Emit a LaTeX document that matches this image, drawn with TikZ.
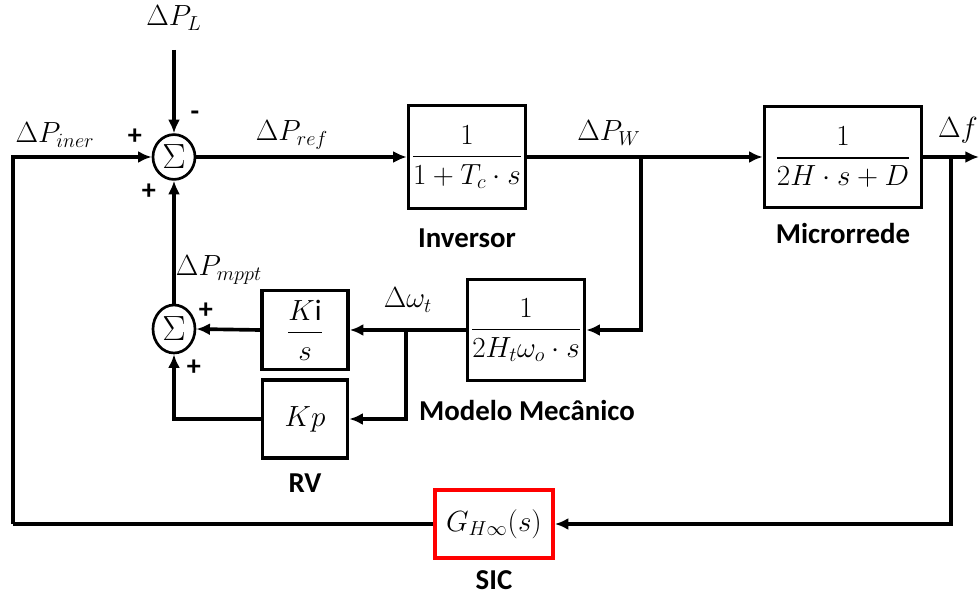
\documentclass[tikz,border=0pt]{standalone}
\usepackage{amsmath}
\usepackage{fontspec}
\setmainfont{Carlito}
\usepackage{tikz}
\usetikzlibrary{positioning, arrows.meta, shapes.geometric}

\begin{document}
\begin{tikzpicture}[
    x=0.025cm, y=-0.025cm,
    font=\fontsize{21}{24}\selectfont,
    blk/.style={
      draw=black, line width=2.6pt, fill=white, inner sep=2pt, align=center
    },
    summ/.style={
      draw=black, line width=1.9pt, ellipse, inner sep=0pt,
      minimum width=1.05cm, minimum height=1.12cm,
      font=\fontsize{24}{26}\selectfont
    },
    lbl/.style={font=\fontsize{20.5}{23}\selectfont\bfseries},
    sgn/.style={font=\fontsize{20}{22}\selectfont\bfseries, inner sep=0pt},
    arr/.style={-{Latex[length=3.4mm, width=3mm]}, line width=2.6pt},
    ln/.style={line width=2.6pt},
  ]
    \useasboundingbox (0,0) rectangle (979,596);
    % somadores
    \node[summ] (s1) at (174,157) {$\Sigma$};
    \node[summ, minimum height=1.2cm] (s2) at (174,329) {$\Sigma$};
    % blocos
    \node[blk, minimum width=2.875cm, minimum height=2.575cm] (inv) at (467,157)
      {$\dfrac{1}{1+T_c\cdot s}$};
    \node[blk, minimum width=3.925cm, minimum height=2.525cm] (mic) at (843,157)
      {$\dfrac{1}{2H\cdot s+D}$};
    \node[blk, minimum width=2.925cm, minimum height=2.525cm] (mec) at (526,330)
      {$\dfrac{1}{2H_t\omega_o\cdot s}$};
    \node[blk, minimum width=2.15cm, minimum height=1.975cm] (ki) at (305,330)
      {$\dfrac{K\mathrm{i}}{s}$};
    \node[blk, minimum width=2.125cm, minimum height=1.95cm] (kp) at (305,419)
      {$Kp$};
    \node[blk, draw=red, minimum width=2.95cm, minimum height=1.7cm] (sic) at (494,524)
      {$G_{H\infty}(s)$};
    % nomes dos blocos
    \node[lbl] (tinv) at (467,238) {Inversor};
    \node[lbl] (tmic) at (843,233) {Microrrede};
    \node[lbl] (tmec) at (527,410) {Modelo Mecânico};
    \node[lbl] (trv) at (305,483) {RV};
    \node[lbl] (tsic) at (494,580) {SIC};
    % pontos auxiliares
    \coordinate (pl) at (174,50);
    \coordinate (out) at (979,157);
    \coordinate (bw) at (641,157);
    \coordinate (bf) at (951,157);
    \coordinate (bo) at (406,330);
    \coordinate (fb) at (13,524);
    % sinais
    \node (lpl) at (174,18) {$\Delta P_L$};
    \node (liner) at (55,135) {$\Delta P_{iner}$};
    \node (lref) at (292,135) {$\Delta P_{ref}$};
    \node (lw) at (609,133) {$\Delta P_W$};
    \node (lf) at (958,130) {$\Delta f$};
    \node (lom) at (408,300) {$\Delta\omega_t$};
    \node (lmp) at (219,270) {$\Delta P_{mppt}$};
    \node[sgn] (m1) at (195,116) {-};
    \node[sgn] (p1) at (135,137) {+};
    \node[sgn] (p2) at (149,192) {+};
    \node[sgn] (p3) at (206,311) {+};
    \node[sgn] (p4) at (194,368) {+};
    % ligacoes
    \draw[arr] (pl) -- (s1.north);
    \draw[arr] (s1.east) -- (inv.west);
    \draw[arr] (inv.east) -- (mic.west);
    \draw[arr] (mic.east) -- (out);
    \draw[arr] (bw) |- (mec.east);
    \draw[arr] (mec.west) -- (ki.east);
    \draw[arr] (bo) |- (kp.east);
    \draw[arr] (ki.west) -- (s2.east);
    \draw[arr] (kp.west) -| (s2.south);
    \draw[arr] (s2.north) -- (s1.south);
    \draw[arr] (bf) |- (sic.east);
    \draw[ln] (sic.west) -- (fb);
    \draw[arr] (fb) |- (s1.west);
  \end{tikzpicture}
\end{document}
